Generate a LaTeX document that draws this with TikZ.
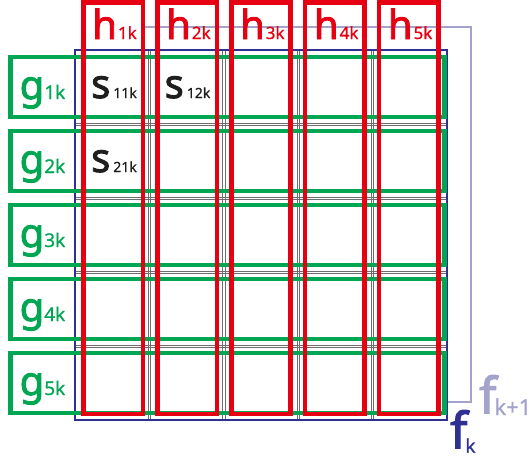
\documentclass[tikz,border=0pt]{standalone}
\usepackage{fontspec}
\setmainfont{Noto Sans}
\newfontfamily\heavyfont[FakeBold=2.2]{Noto Sans}
\newfontfamily\subfont[FakeBold=0.6]{Noto Sans}
\definecolor{hred}{RGB}{230,0,18}
\definecolor{ggreen}{RGB}{0,166,81}
\definecolor{fnavy}{RGB}{46,49,146}
\definecolor{fnext}{RGB}{163,163,204}
\definecolor{gridgray}{RGB}{110,110,110}
\definecolor{stext}{RGB}{30,30,30}
\newcommand\subtxt[2]{{\subfont\fontsize{#1}{#1}\selectfont #2}}
\begin{document}
\begin{tikzpicture}[x=1pt,y=-1pt,
  redbox/.style={draw=hred,line width=4.5pt},
  greenbox/.style={draw=ggreen,line width=4.5pt},
  gridline/.style={draw=gridgray,line width=0.8pt},
  navyframe/.style={draw=fnavy,line width=2.4pt},
  nextframe/.style={draw=fnext,line width=2.5pt},
  lab/.style={anchor=base,inner sep=0pt,font=\heavyfont\fontsize{40}{40}\selectfont},
  hlab/.style={lab,text=hred},
  glab/.style={lab,text=ggreen},
  slab/.style={lab,text=stext},
  flab/.style={anchor=base west,inner sep=0pt,font=\heavyfont\fontsize{50}{50}\selectfont}]
\useasboundingbox (0,0) rectangle (529,459);
% f_{k+1} frame (partly hidden)
\coordinate (n1) at (143,27);
\coordinate (n2) at (471,27);
\coordinate (n3) at (471,402);
\coordinate (n4) at (447,402);
\draw[nextframe] (n1) -- (n2) -- (n3) -- (n4);
% grid double lines
\foreach \b in {124,198,272,346}{
  \draw[gridline] (75,\b-1.1) -- (447,\b-1.1);
  \draw[gridline] (75,\b+1.1) -- (447,\b+1.1);
}
\foreach \c in {149.4,223.8,298.2,372.6}{
  \draw[gridline] (\c-1.1,50) -- (\c-1.1,420);
  \draw[gridline] (\c+1.1,50) -- (\c+1.1,420);
}
% f_k frame
\draw[navyframe] (75,50) rectangle (447,420);
% green row boxes
\foreach \r in {1,...,5}{
  \draw[greenbox] (10.3,{50+74*(\r-1)+7}) rectangle (444.5,{50+74*\r-7});
}
% red column boxes
\foreach \i in {1,...,5}{
  \draw[redbox] ({83.5+73.9*(\i-1)},2.3) rectangle ({83.5+73.9*(\i-1)+59.4},414);
}
% h labels
\node[hlab] (h1) at (114.5,39) {h\hspace{1pt}\subtxt{17}{1k}};
\node[hlab] (h2) at (188.4,39) {h\hspace{1pt}\subtxt{17}{2k}};
\node[hlab] (h3) at (262.3,39) {h\hspace{1pt}\subtxt{17}{3k}};
\node[hlab] (h4) at (336.2,39) {h\hspace{1pt}\subtxt{17}{4k}};
\node[hlab] (h5) at (410.1,39) {h\hspace{1pt}\subtxt{17}{5k}};
% g labels
\node[glab] (g1) at (42.5,99) {g\subtxt{19}{1k}};
\node[glab] (g2) at (42.5,173) {g\subtxt{19}{2k}};
\node[glab] (g3) at (42.5,247) {g\subtxt{19}{3k}};
\node[glab] (g4) at (42.5,321) {g\subtxt{19}{4k}};
\node[glab] (g5) at (42.5,395) {g\subtxt{19}{5k}};
% s labels
\node[slab] (s11) at (114,98) {s\hspace{3pt}\subtxt{14}{11k}};
\node[slab] (s12) at (187.5,98) {s\hspace{3pt}\subtxt{14}{12k}};
\node[slab] (s21) at (114,172) {s\hspace{3pt}\subtxt{14}{21k}};
% f labels
\node[flab,text=fnavy] (fk) at (450,448.3) {f\kern-2pt\raisebox{-4.4pt}{\subtxt{19}{k}}};
\node[flab,text=fnext] (fk1) at (479,413.3) {f\kern-2pt\raisebox{-1.7pt}{\subtxt{22}{k+1}}};
\end{tikzpicture}
\end{document}
